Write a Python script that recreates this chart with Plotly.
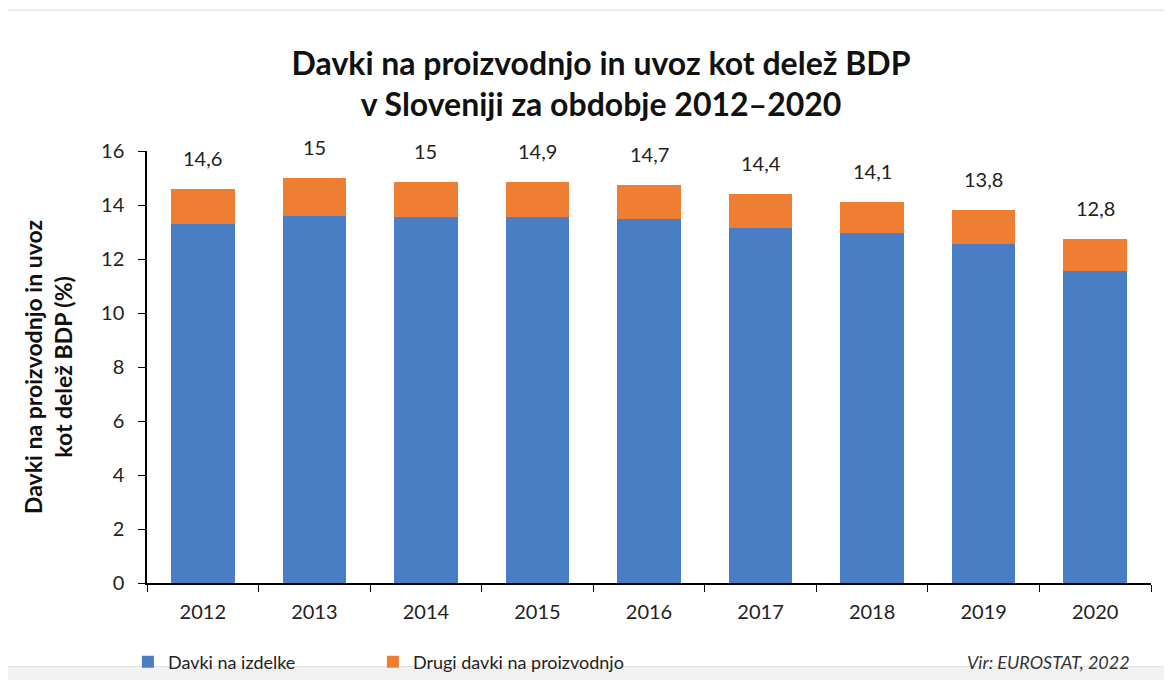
import plotly.graph_objects as go

years = ["2012", "2013", "2014", "2015", "2016", "2017", "2018", "2019", "2020"]
davki_na_izdelke = [13.3, 13.6, 13.55, 13.55, 13.5, 13.15, 12.95, 12.55, 11.55]
drugi_davki = [1.3, 1.4, 1.3, 1.3, 1.25, 1.25, 1.15, 1.25, 1.2]
total_labels = ["14,6", "15", "15", "14,9", "14,7", "14,4", "14,1", "13,8", "12,8"]
y_ticks = [0, 2, 4, 6, 8, 10, 12, 14, 16]

FONT = "Lato"
BLUE = "#4a7ec4"
ORANGE = "#ef7e32"

fig = go.Figure()
fig.add_trace(go.Bar(x=years, y=davki_na_izdelke, name="Davki na izdelke",
                     marker=dict(color=BLUE, line=dict(width=0)), legend="legend"))
fig.add_trace(go.Bar(x=years, y=drugi_davki, name="Drugi davki na proizvodnjo",
                     marker=dict(color=ORANGE, line=dict(width=0)), legend="legend2"))

totals = [a + b for a, b in zip(davki_na_izdelke, drugi_davki)]
for i, (tot, lab) in enumerate(zip(totals, total_labels)):
    fig.add_annotation(x=i, y=tot, xref="x", yref="y", text=lab, showarrow=False, yshift=31,
                       font=dict(family=FONT, size=20, color="#222222"))

fig.add_annotation(xref="paper", yref="paper", x=0.981, y=-0.183, xanchor="right", yanchor="middle",
                   text="<i>Vir: EUROSTAT, 2022</i>", showarrow=False,
                   font=dict(family=FONT, size=18, color="#333333"))

leg_common = dict(orientation="h", y=-0.183, xanchor="left", yanchor="middle",
                  font=dict(family=FONT, size=18, color="#222222"), bgcolor="rgba(0,0,0,0)")

fig.update_layout(
    width=1172, height=680,
    margin=dict(l=139, r=29, t=143, b=105, autoexpand=False),
    paper_bgcolor="white", plot_bgcolor="white",
    barmode="stack", bargap=0.43,
    title=dict(text="<b>Davki na proizvodnjo in uvoz kot delež BDP<br>v Sloveniji za obdobje 2012–2020</b>",
               x=0.506, xanchor="center", y=0.902, yanchor="top", yref="container",
               font=dict(family=FONT, size=32, color="#111111")),
    font=dict(family=FONT, color="#222222"),
    showlegend=True,
    legend=dict(x=-0.019, **leg_common),
    legend2=dict(x=0.225, **leg_common),
    xaxis=dict(type="category", showline=True, linecolor="black", linewidth=1.5, ticks="outside",
               tickson="boundaries", ticklen=7, tickcolor="black", ticklabelstandoff=10,
               tickfont=dict(family=FONT, size=20, color="#222222"), showgrid=False),
    yaxis=dict(range=[0, 16], tickvals=y_ticks, showline=True, linecolor="black", linewidth=1.5,
               ticks="outside", ticklen=7, tickcolor="black", showgrid=False, zeroline=False,
               ticklabelstandoff=10,
               tickfont=dict(family=FONT, size=20, color="#222222"),
               title=dict(text="<b>Davki na proizvodnjo in uvoz<br>kot delež BDP (%)</b>",
                          font=dict(family=FONT, size=23, color="#111111"), standoff=22)),
)

fig.add_shape(type="rect", xref="paper", yref="paper", x0=-0.143, x1=1.03, y0=-0.194, y1=1.326,
              line=dict(color="#d8d8d8", width=1), layer="below")
fig.add_shape(type="rect", xref="paper", yref="paper", x0=-0.16, x1=1.03, y0=-0.26, y1=-0.195,
              line=dict(width=0), fillcolor="#f1f1f1", layer="below")

fig.write_html("out.html")
